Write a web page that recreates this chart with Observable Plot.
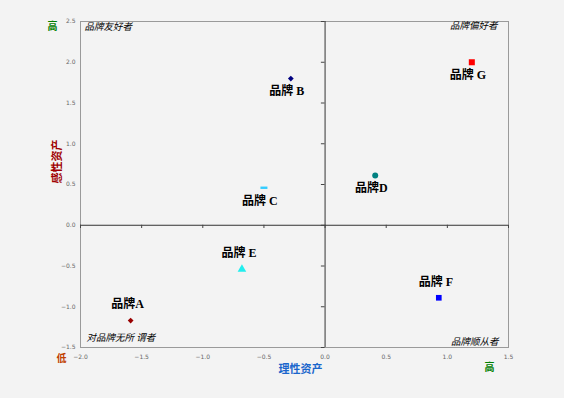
<!DOCTYPE html>
<html>
<head>
<meta charset="utf-8">
<script src="https://cdn.jsdelivr.net/npm/d3@7"></script>
<script src="https://cdn.jsdelivr.net/npm/@observablehq/plot@0.6"></script>
<style>
  html, body { margin: 0; padding: 0; background: #f3f3f3; }
  #chart { width: 564px; height: 398px; }
  svg { display: block; }
</style>
</head>
<body>
<div id="chart"></div>
<script>
// ---- data ----
const brands = ["A", "B", "C", "D", "E", "F", "G"];
const brandLabels = ["品牌A", "品牌 B", "品牌 C", "品牌D", "品牌 E", "品牌 F", "品牌 G"];
const rationalAssets = [-1.59, -0.28, -0.50, 0.41, -0.68, 0.93, 1.20];   // 理性资产 (x)
const emotionalAssets = [-1.17, 1.80, 0.46, 0.61, -0.54, -0.89, 2.00];   // 感性资产 (y)
const xTicks = [-2.0, -1.5, -1.0, -0.5, 0.0, 0.5, 1.0, 1.5];
const yTicks = [-1.5, -1.0, -0.5, 0.0, 0.5, 1.0, 1.5, 2.0, 2.5];
const quadrantNames = ["品牌友好者", "品牌偏好者", "品牌顺从者", "对品牌无所 谓者"];
const xTitle = "理性资产";
const yTitle = "感性资产";
const highLabel = "高";
const lowLabel = "低";

// ---- styles ----
const colors = {A: "#990000", B: "#000080", C: "#33ccff", D: "#008080", E: "#22eeee", F: "#0000ff", G: "#ff0000"};
const dash = {draw(ctx) { ctx.rect(-3.5, -1.2, 7, 2.4); }};
const symbols = {A: "diamond2", B: "diamond2", C: dash, D: "circle", E: "triangle", F: "square", G: "square"};
const sizes = {A: 2.6, B: 2.6, C: 3, D: 3, E: 3.2, F: 3.2, G: 3.4};
const labelsAbove = new Set(["A", "E", "F"]);

const data = brands.map((b, i) => ({brand: b, label: brandLabels[i], x: rationalAssets[i], y: emotionalAssets[i]}));

const fmt = d3.format(".1f");
const labelFont = "'Liberation Serif', 'Noto Sans CJK SC', serif";
const cjk = "'Noto Sans CJK SC', sans-serif";
const qStyle = {fontSize: 9.5, fontStyle: "italic", fontFamily: cjk, fill: "#000"};

const marks = [
  Plot.frame({stroke: "#9a9a9a", strokeWidth: 1}),
  Plot.ruleX([0], {stroke: "#333", strokeWidth: 1}),
  Plot.ruleY([0], {stroke: "#333", strokeWidth: 1}),
  Plot.ruleY(yTicks, {x1: -0.03, x2: 0, stroke: "#444"}),
  Plot.ruleX(xTicks, {y1: 0, y2: -0.04, stroke: "#444"}),
  ...data.map(d => Plot.dot([d], {x: "x", y: "y", symbol: symbols[d.brand], r: sizes[d.brand], fill: colors[d.brand], stroke: "none"})),
  Plot.text(data.filter(d => labelsAbove.has(d.brand)), {x: "x", y: "y", text: "label", dx: -3, dy: -16,
    fontSize: 12, fontWeight: "bold", fontFamily: labelFont, fill: "#000"}),
  Plot.text(data.filter(d => !labelsAbove.has(d.brand)), {x: "x", y: "y", text: "label", dx: -4, dy: 13,
    fontSize: 12, fontWeight: "bold", fontFamily: labelFont, fill: "#000"}),
  // quadrant names
  Plot.text([quadrantNames[0]], {frameAnchor: "top-left", text: d => d, dx: 4, dy: 2, ...qStyle}),
  Plot.text([quadrantNames[1]], {frameAnchor: "top-right", text: d => d, dx: -11, dy: 1, ...qStyle}),
  Plot.text([quadrantNames[2]], {frameAnchor: "bottom-right", text: d => d, dx: -10, dy: -3, ...qStyle}),
  Plot.text([quadrantNames[3]], {frameAnchor: "bottom-left", text: d => d, dx: 6, dy: -7, ...qStyle}),
  // axis titles and high/low markers
  Plot.text([xTitle], {frameAnchor: "bottom", text: d => d, dx: 6, dy: 25, fontSize: 11, fontWeight: "bold", fontFamily: cjk, fill: "#1a66cc"}),
  Plot.text([yTitle], {frameAnchor: "left", text: d => d, dx: -23, dy: -1, rotate: -90, fontSize: 11, fontWeight: "bold", fontFamily: cjk, fill: "#a00000"}),
  Plot.text([highLabel], {frameAnchor: "top-left", text: d => d, dx: -33, dy: 1, fontSize: 10, fontWeight: "bold", fontFamily: cjk, fill: "#008000"}),
  Plot.text([highLabel], {frameAnchor: "bottom-right", text: d => d, dx: -14, dy: 23, fontSize: 10, fontWeight: "bold", fontFamily: cjk, fill: "#008000"}),
  Plot.text([lowLabel], {frameAnchor: "bottom-left", text: d => d, dx: -24, dy: 14, fontSize: 10, fontWeight: "bold", fontFamily: cjk, fill: "#c04000"}),
];

const chart = Plot.plot({
  width: 564,
  height: 398,
  marginLeft: 80,
  marginRight: 56,
  marginTop: 21,
  marginBottom: 51,
  style: {background: "#f3f3f3", fontFamily: "'DejaVu Sans', sans-serif", overflow: "visible"},
  x: {domain: [-2.0, 1.5], label: null},
  y: {domain: [-1.5, 2.5], label: null},
  marks: [
    Plot.axisX({ticks: xTicks, tickFormat: fmt, tickSize: 0, tickPadding: 7, fontSize: 6, fill: "#666", label: null}),
    Plot.axisY({ticks: yTicks, tickFormat: fmt, tickSize: 0, tickPadding: 5, fontSize: 6, fill: "#666", label: null}),
    ...marks
  ]
});
document.getElementById("chart").appendChild(chart);
</script>
</body>
</html>
